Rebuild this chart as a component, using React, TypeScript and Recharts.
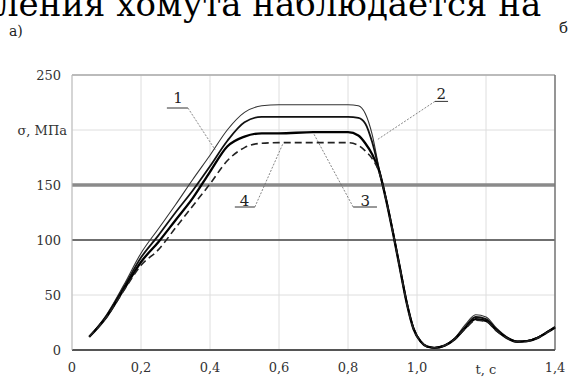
import { LineChart, Line, XAxis, YAxis, CartesianGrid, ReferenceLine, ReferenceDot } from 'recharts'

// time, s
const times = [0.05, 0.1, 0.15, 0.2, 0.25, 0.3, 0.35, 0.4, 0.45, 0.5, 0.55, 0.6, 0.7, 0.8, 0.83, 0.85, 0.87, 0.89, 0.91, 0.93, 0.95, 0.97, 0.99, 1.01, 1.03, 1.05, 1.08, 1.11, 1.14, 1.17, 1.2, 1.23, 1.26, 1.29, 1.32, 1.35, 1.38, 1.4]

// sigma, MPa for curves 1..4
const curve1 = [12, 32, 59, 88, 110, 132, 155, 177, 200, 216, 222, 223, 223, 223, 222, 215, 196, 165, 138, 108, 76, 44, 20, 8, 3, 2, 4, 11, 23, 32, 30, 20, 12, 8, 8.5, 11.5, 17, 21]
const curve2 = [12, 31, 57, 84, 104, 125, 145, 167, 190, 207, 212, 212, 212, 212, 211, 206, 189, 164, 138, 108, 76, 44, 20, 8, 3, 2, 4, 10.5, 21, 30, 28, 19, 11.5, 7.8, 8.3, 11.3, 17, 21]
const curve3 = [12, 30, 55, 80, 98, 118, 138, 162, 185, 194, 197, 197, 198, 198, 195, 188, 178, 163, 137, 107, 75, 43, 19, 8, 3, 2, 4, 10, 20, 28, 26.5, 18, 11, 7.5, 8, 11, 16.5, 20.5]
const curve4 = [12, 30, 54, 77, 91, 111, 131, 151, 172, 184, 188, 188.5, 188.5, 188.5, 186, 181, 174, 162, 137, 107, 75, 43, 19, 8, 3, 2, 4, 10, 19.5, 27, 26, 17.5, 11, 7.5, 8, 11, 16.5, 20.5]

const xTicks = [0, 0.2, 0.4, 0.6, 0.8, 1.0, 1.2, 1.4]
const yTicks = [0, 50, 100, 150, 200, 250]

// curve labels: text position, underline span, leader start/end
const curveLabels = [
  { name: '1', t: 0.307, s: 229, u0: 0.275, u1: 0.336, us: 220, from: 0.336, lt: 0.415, ls: 182 },
  { name: '2', t: 1.07, s: 233, u0: 1.052, u1: 1.09, us: 226, from: 1.052, lt: 0.884, ls: 191 },
  { name: '3', t: 0.85, s: 136, u0: 0.815, u1: 0.884, us: 130, from: 0.815, lt: 0.70, ls: 197 },
  { name: '4', t: 0.5, s: 136, u0: 0.472, u1: 0.53, us: 130, from: 0.53, lt: 0.612, ls: 188 },
]

const chartData = times.map((t, i) => ({
  t,
  c1: curve1[i],
  c2: curve2[i],
  c3: curve3[i],
  c4: curve4[i],
}))

const serif = 'DejaVu Serif, serif'

function XTick({ x, y, payload }: any) {
  const v = payload.value
  const isT = Math.abs(v - 1.2) < 1e-6
  const text = isT ? 't, c' : v === 0 ? '0' : v.toFixed(1).replace('.', ',')
  return (
    <text x={x} y={y + (isT ? 16 : 14)} textAnchor="middle" fontSize={13} fill="#333" fontFamily={serif}>
      {text}
    </text>
  )
}

function YTick({ x, y, payload }: any) {
  const v = payload.value
  const isSigma = v === 200
  return (
    <text x={isSigma ? x + 3 : x - 3} y={y + 5} textAnchor="end" fontSize={13} fill="#333" fontFamily={serif}>
      {isSigma ? 'σ, МПа' : String(v)}
    </text>
  )
}

export default function App() {
  return (
    <div style={{ position: 'absolute', left: 0, top: 0, width: 568, height: 377, background: '#fff', overflow: 'hidden' }}>
      <div style={{ position: 'absolute', left: -3, top: -6, fontFamily: serif, fontSize: 34, lineHeight: '20px', whiteSpace: 'nowrap', color: '#000' }}>
        ления хомута наблюдается на
      </div>
      <div style={{ position: 'absolute', left: 9, top: 23, fontFamily: serif, fontSize: 14, lineHeight: '16px', color: '#222' }}>а)</div>
      <div style={{ position: 'absolute', left: 559, top: 19, fontFamily: serif, fontSize: 15, lineHeight: '18px', color: '#222' }}>б</div>
      <div style={{ position: 'absolute', left: 0, top: 0 }}>
        <LineChart width={568} height={377} data={chartData} margin={{ top: 75, right: 13, left: 0, bottom: 0 }}>
          <CartesianGrid stroke="#dedede" strokeWidth={1} />
          <XAxis
            dataKey="t"
            type="number"
            domain={[0, 1.4]}
            ticks={xTicks}
            height={27}
            tick={<XTick />}
            tickLine={false}
            axisLine={{ stroke: '#555', strokeWidth: 2 }}
          />
          <YAxis
            type="number"
            domain={[0, 250]}
            ticks={yTicks}
            width={72}
            tick={<YTick />}
            tickLine={false}
            axisLine={{ stroke: '#bbb', strokeWidth: 1 }}
          />
          <ReferenceLine y={250} stroke="#aaa" strokeWidth={1.5} />
          <ReferenceLine y={150} stroke="#8a8a8a" strokeWidth={3.5} />
          <ReferenceLine y={100} stroke="#444" strokeWidth={1.5} />
          <ReferenceLine x={1.4} stroke="#777" strokeWidth={1.5} />

          {curveLabels.map((l) => (
            <ReferenceLine
              key={`u-${l.name}`}
              segment={[{ x: l.u0, y: l.us }, { x: l.u1, y: l.us }]}
              stroke="#333"
              strokeWidth={1}
            />
          ))}
          {curveLabels.map((l) => (
            <ReferenceLine
              key={`lead-${l.name}`}
              segment={[{ x: l.from, y: l.us }, { x: l.lt, y: l.ls }]}
              stroke="#666"
              strokeWidth={0.8}
              strokeDasharray="2 1.5"
            />
          ))}
          {curveLabels.map((l) => (
            <ReferenceDot
              key={`d-${l.name}`}
              x={l.t}
              y={l.s}
              r={0.1}
              fill="none"
              stroke="none"
              label={{ value: l.name, position: 'center', fontSize: 15, fill: '#222', fontFamily: serif }}
            />
          ))}

          <Line type="monotone" dataKey="c1" stroke="#333" strokeWidth={1.1} dot={false} isAnimationActive={false} />
          <Line type="monotone" dataKey="c2" stroke="#111" strokeWidth={1.8} dot={false} isAnimationActive={false} />
          <Line type="monotone" dataKey="c3" stroke="#000" strokeWidth={2.3} dot={false} isAnimationActive={false} />
          <Line type="monotone" dataKey="c4" stroke="#222" strokeWidth={1.6} strokeDasharray="7 4" dot={false} isAnimationActive={false} />
        </LineChart>
      </div>
    </div>
  )
}
